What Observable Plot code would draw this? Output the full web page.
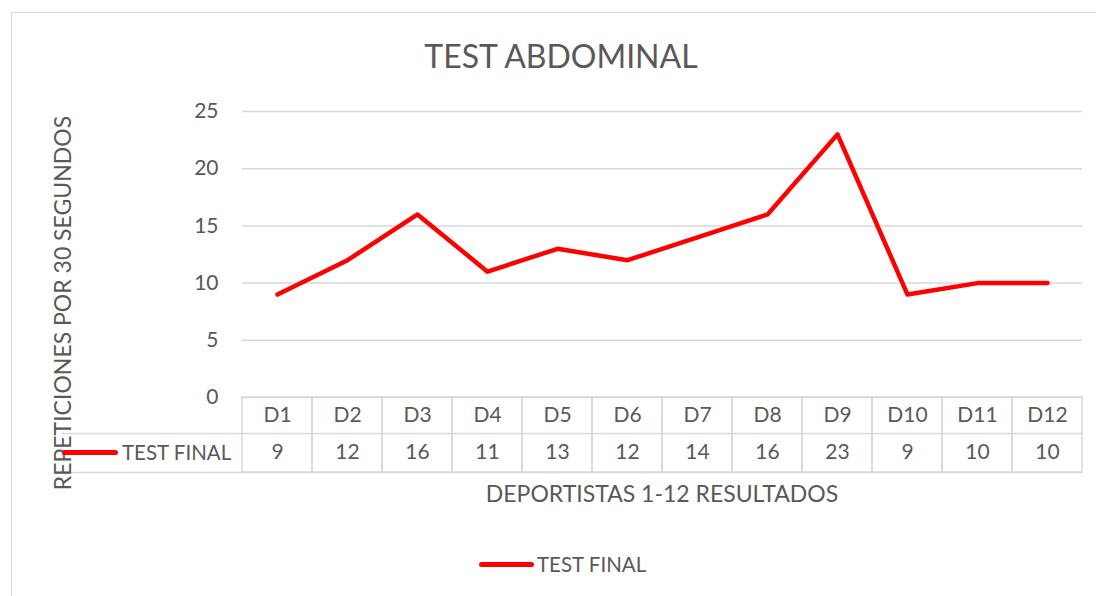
<!DOCTYPE html>
<html>
<head>
<meta charset="utf-8">
<script src="https://cdn.jsdelivr.net/npm/d3@7"></script>
<script src="https://cdn.jsdelivr.net/npm/@observablehq/plot@0.6"></script>
<style>
  html, body { margin: 0; padding: 0; background: #fff; overflow: hidden; }
  #wrap { position: relative; width: 1096px; height: 596px; font-family: Lato, "Open Sans", sans-serif; color: #595959; }
  #border { position: absolute; left: 11px; top: 12px; width: 1200px; height: 700px; border: 1.5px solid #d9d9d9; box-sizing: border-box; }
  #chart { position: absolute; left: 0; top: 0; }
  .lbl { position: absolute; white-space: nowrap; line-height: 1; }
  #title { left: 561px; top: 56px; transform: translate(-50%, -50%); font-size: 32px; }
  #ytitle { left: 62px; top: 303px; transform: translate(-50%, -50%) rotate(-90deg); font-size: 23px; }
  #xtitle { left: 662px; top: 493px; transform: translate(-50%, -50%); font-size: 23px; }
  .key { position: absolute; height: 5px; background: #ff0000; border-radius: 3px; }
</style>
</head>
<body>
<div id="wrap">
  <div id="border"></div>
  <div id="chart"></div>
  <div id="title" class="lbl"></div>
  <div id="ytitle" class="lbl"></div>
  <div id="xtitle" class="lbl"></div>
  <div class="key" style="left:62px; top:450px; width:56px;"></div>
  <div id="tkey" class="lbl" style="left:122px; top:452px; transform: translateY(-50%); font-size:20.5px;"></div>
  <div class="key" style="left:479px; top:562px; width:55px;"></div>
  <div id="lkey" class="lbl" style="left:537px; top:564px; transform: translateY(-50%); font-size:20.5px;"></div>
</div>
<script>
const title = "TEST ABDOMINAL";
const yTitle = "REPETICIONES POR 30 SEGUNDOS";
const xTitle = "DEPORTISTAS 1-12 RESULTADOS";
const seriesName = "TEST FINAL";
const categories = ["D1","D2","D3","D4","D5","D6","D7","D8","D9","D10","D11","D12"];
const values = [9, 12, 16, 11, 13, 12, 14, 16, 23, 9, 10, 10];
const yTicks = [0, 5, 10, 15, 20, 25];

document.getElementById("title").textContent = title;
document.getElementById("ytitle").textContent = yTitle;
document.getElementById("xtitle").textContent = xTitle;
document.getElementById("tkey").textContent = seriesName;
document.getElementById("lkey").textContent = seriesName;

const data = categories.map((c, i) => ({cat: c, val: values[i]}));
const grid = "#d9d9d9";
const txt = "#595959";

const chart = Plot.plot({
  width: 1096,
  height: 596,
  marginTop: 111,
  marginBottom: 199,
  marginLeft: 242,
  marginRight: 14,
  style: {fontFamily: "Lato, 'Open Sans', sans-serif", fontSize: "21px", color: txt, background: "transparent"},
  x: {type: "band", domain: categories, padding: 0, axis: null},
  y: {domain: [0, 25], axis: null},
  marks: [
    Plot.ruleY(yTicks, {stroke: grid, strokeWidth: 1.5}),
    Plot.axisY({ticks: yTicks, tickSize: 0, tickPadding: 24, label: null, fill: txt, fontSize: 21}),
    Plot.barY(data, {x: "cat", y1: 0, y2: 0, insetBottom: -75, fill: "none", stroke: grid, strokeWidth: 1.5}),
    Plot.ruleY([0], {dy: 36, insetLeft: -180, stroke: grid, strokeWidth: 1.5}),
    Plot.ruleY([0], {dy: 75, insetLeft: -180, stroke: grid, strokeWidth: 1.5}),
    Plot.text(data, {x: "cat", y: () => 0, text: "cat", dy: 18, fill: txt, fontSize: 21}),
    Plot.text(data, {x: "cat", y: () => 0, text: d => String(d.val), dy: 55, fill: txt, fontSize: 21}),
    Plot.line(data, {x: "cat", y: "val", stroke: "#ff0000", strokeWidth: 4.5, strokeLinejoin: "round", strokeLinecap: "round"})
  ]
});
document.getElementById("chart").appendChild(chart);
</script>
</body>
</html>
